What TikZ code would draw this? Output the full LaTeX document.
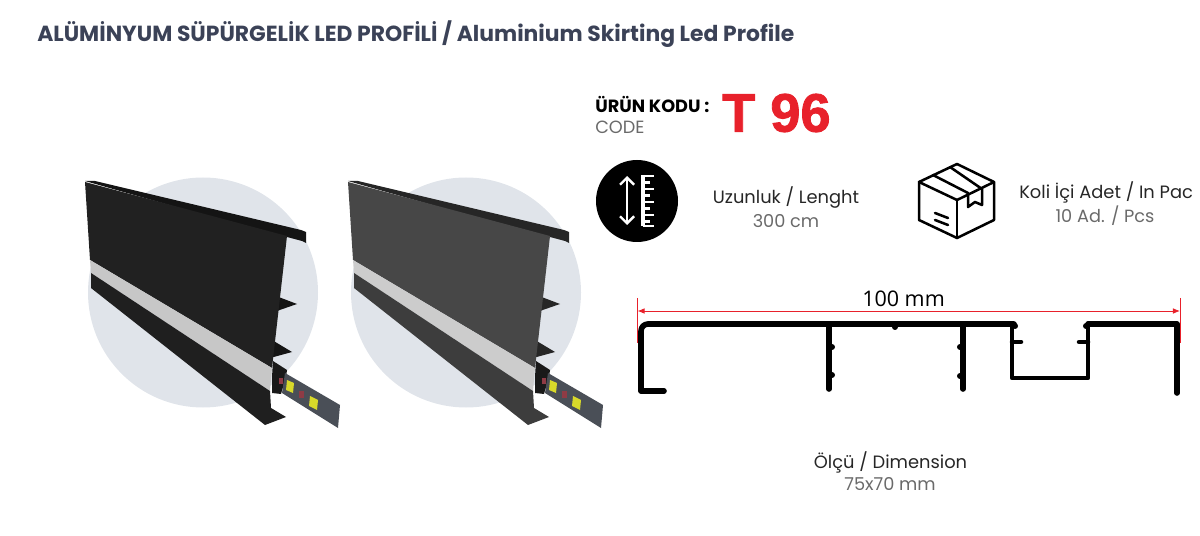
\documentclass[tikz,border=0pt]{standalone}
\usepackage{fontspec}
\usetikzlibrary{arrows.meta}
\setmainfont{Poppins}
\newfontfamily\numfont[BoldFeatures={FakeBold=1.6}]{Liberation Sans}
\newfontfamily\dimfont{Open Sans}
\definecolor{titlec}{HTML}{3B4257}
\definecolor{greyc}{HTML}{6A6A6A}
\definecolor{redc}{HTML}{E8212B}
\definecolor{discc}{HTML}{E0E4EA}
\definecolor{ledc}{HTML}{4A4F57}
\definecolor{yellowc}{HTML}{D8D92A}
\definecolor{ledredc}{HTML}{8F3B45}
\begin{document}
\begin{tikzpicture}[
		x=0.025cm,y=-0.025cm,
		titlelabel/.style={inner sep=0pt,anchor=west,text=titlec,font=\fontsize{15.55}{18}\selectfont\bfseries},
		mainlabel/.style={inner sep=0pt,text=black!85,font=\fontsize{12.7}{15}\selectfont},
		sublabel/.style={inner sep=0pt,text=greyc,font=\fontsize{12.6}{15}\selectfont},
		profileline/.style={line width=4pt,line cap=round,line join=round},
		thinline/.style={line width=3.2pt,line cap=round,line join=round},
		iconline/.style={line width=1.8pt,line join=round,line cap=round},
		dimline/.style={draw=redc,line width=0.6pt}]
	\useasboundingbox (0,0) rectangle (1200,536);
	\node [titlelabel] (title) at (37,34.5) {ALÜMİNYUM SÜPÜRGELİK LED PROFİLİ / Aluminium Skirting Led Profile};

	\foreach \dx/\panelc/\lipc/\lowc/\stripc in {0/black!87/black!92/black!88/black!22,263/black!72/black!85/black!76/black!20} {
		\begin{scope}[shift={(\dx,0)}]
			\fill [discc] (203,292.5) circle [radius=115];
			\fill [\lipc] (276,296) -- (297,304) -- (274,312) -- cycle;
			\fill [\lipc] (272,340) -- (292,352) -- (270,358) -- cycle;
			\fill [\lipc] (85,181) -- (95,181) -- (301,230) -- (306,232) -- (306,243) -- (302,241) -- (287,237) -- (285,238) -- cycle;
			\fill [\panelc] (85,182) -- (287,236) -- (272,368) -- (90,260) -- cycle;
			\fill [\stripc] (90,260) -- (272,368) -- (270,391) -- (91,273) -- cycle;
			\fill [\lowc] (91,273) -- (270,391) -- (271,408) -- (286,417) -- (265,425) -- (91,288) -- cycle;
			\fill [black!90] (273,361) -- (287,370) -- (286,377) -- (281,394) -- (272,393) -- (272,377) -- cycle;
			\fill [ledc] (285,373) -- (340,405) -- (338,428) -- (282,393) -- cycle;
			\fill [yellowc] (287,380) -- (294,383) -- (293,393) -- (286,390) -- cycle;
			\fill [yellowc] (310,396) -- (318,400) -- (317,410) -- (309,406) -- cycle;
			\fill [ledredc] (279,378) rectangle (283,384);
			\fill [ledredc] (299,391) rectangle (304,398);
		\end{scope}
	}

	\node [inner sep=0pt,anchor=west,font=\fontsize{12.6}{15}\selectfont\bfseries] (codelabel) at (595,104) {ÜRÜN KODU :};
	\node [inner sep=0pt,anchor=west,text=greyc,font=\fontsize{12.6}{15}\selectfont] (codesub) at (595,127) {CODE};
	\node [inner sep=0pt,anchor=west,text=redc,font=\fontsize{38.5}{42}\selectfont\numfont\bfseries] (code) at (722,113) {T 96};

	\fill [black] (637,201) circle [radius=41];
	\draw [white,line width=1.7pt,<->,>={Straight Barb[length=5pt,width=10pt]}] (627,176) -- (627,225);
	\draw [white,line width=2.2pt] (643,175) -- (643,226);
	\foreach \ty/\tx in {176/654,182.5/650,189/654,195.5/650,202/654,208.5/650,215/654,221.5/650,226/654}
		\draw [white,line width=2pt] (643,\ty) -- (\tx,\ty);
	\node [mainlabel] (length) at (786,198) {Uzunluk / Lenght};
	\node [sublabel] (lengthsub) at (786,221) {300 cm};

	\draw [iconline] (957,164) -- (994,182) -- (994,220) -- (957,238) -- (919,220) -- (919,182) -- cycle;
	\draw [iconline] (919,182) -- (957,200) -- (994,182);
	\draw [iconline] (957,200) -- (957,238);
	\draw [iconline] (933,175) -- (968,193) -- (968,207) -- (975,202) -- (982,205) -- (982,189) -- (950,167);
	\draw [iconline] (935,213) -- (948,218);
	\draw [iconline] (935,220) -- (948,225);
	\node [mainlabel,anchor=west] (pack) at (1019,192) {Koli İçi Adet / In Pac};
	\node [sublabel] (packsub) at (1105,216) {10 Ad. / Pcs};

	\coordinate (dimL) at (637.5,311);
	\coordinate (dimR) at (1180,311);
	\draw [dimline] (637.5,298) -- (637.5,343);
	\draw [dimline] (1180,298) -- (1180,343);
	\draw [dimline,<->,>={Latex[length=5pt,width=4pt]}] (dimL) -- (dimR);
	\node [inner sep=0pt,font=\fontsize{15.3}{18}\selectfont\dimfont] (width) at (903.5,299) {100 mm};

	\draw [profileline,rounded corners=5pt] (641,350) -- (641,324) -- (1014,324);
	\draw [profileline] (641,345) -- (641,391) -- (664,391);
	\draw [profileline] (829,324) -- (829,389);
	\draw [profileline] (963,324) -- (963,389);
	\draw [profileline] (1088,324) -- (1177,324) -- (1177,393);
	\draw [thinline] (1012,324) -- (1012,378) -- (1088,378) -- (1088,324);
	\draw [thinline] (1012,342) -- (1021,342);
	\draw [thinline] (1088,342) -- (1079,342);
	\foreach \bx/\by in {832/347,832/375,895/327,960/347,960/376,1015/326,1086/326}
		\fill [black] (\bx,\by) circle [radius=3];

	\node [mainlabel] (dimension) at (890.5,462) {Ölçü / Dimension};
	\node [sublabel] (dimensionsub) at (890,484) {75x70 mm};
\end{tikzpicture}
\end{document}
